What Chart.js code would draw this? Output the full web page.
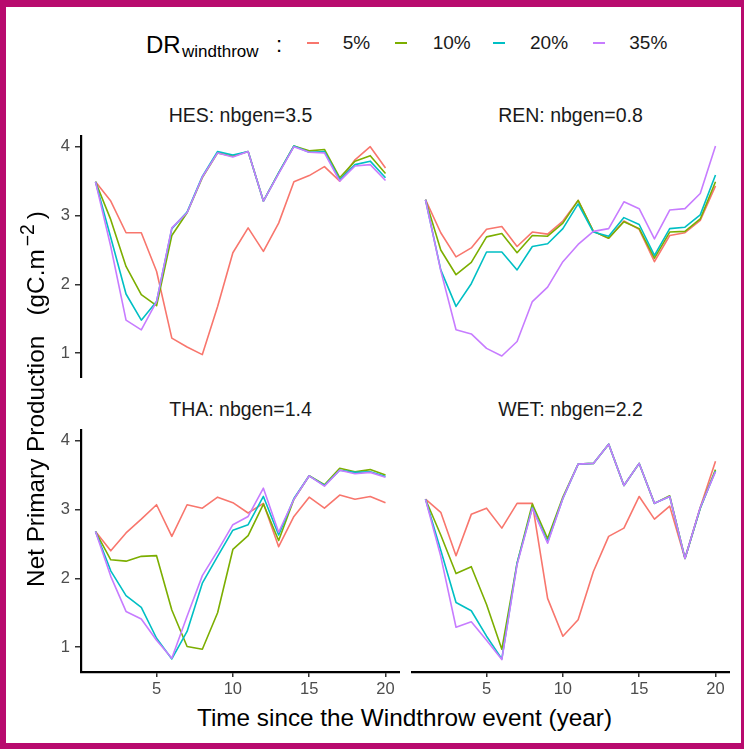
<!DOCTYPE html>
<html>
<head>
<meta charset="utf-8">
<script src="https://cdn.jsdelivr.net/npm/chart.js@4.4.1/dist/chart.umd.min.js"></script>
<style>
    body { margin: 0; background: #fff; }
    #page {
        position: relative; width: 744px; height: 749px; overflow: hidden;
        background: #fff; font-family: "Liberation Sans", Arial, sans-serif;
    }
    #frame {
        position: absolute; left: 0; top: 0; width: 744px; height: 749px;
        box-sizing: border-box; border-style: solid; border-color: #b80b6e;
        border-width: 7px 3px 6px 6px; pointer-events: none; z-index: 5;
    }
    canvas { position: absolute; }
    .txt { position: absolute; white-space: pre; line-height: 1; color: #1a1a1a; }
    .strip { width: 300px; text-align: center; font-size: 19.5px; }
    .key { position: absolute; height: 2px; width: 12px; }
    #ytitle {
        position: absolute; left: 36px; top: 399px; font-size: 24.3px; line-height: 1;
        white-space: pre; color: #000;
        transform: translate(-50%, -50%) rotate(-90deg);
    }
    #ytitle sup { font-size: 0.8em; vertical-align: 0.5em; line-height: 0; margin: 0 5px 0 3px; }
</style>
</head>
<body>
<div id="page">
    <!-- leyenda -->
    <div class="txt" style="left:146px; top:32.7px; font-size:24px; color:#000">DR</div>
    <div class="txt" style="left:182px; top:42.6px; font-size:17px; color:#000">windthrow</div>
    <div class="txt" style="left:276px; top:34.4px; font-size:22px; color:#000">:</div>
    <div class="key" style="left:307px; top:42px; background:#F8766D"></div>
    <div class="txt" style="left:342.7px; top:33.2px; font-size:19px">5%</div>
    <div class="key" style="left:395px; top:42px; background:#7CAE00"></div>
    <div class="txt" style="left:432.7px; top:33.2px; font-size:19px">10%</div>
    <div class="key" style="left:493px; top:42px; background:#00BFC4"></div>
    <div class="txt" style="left:530px; top:33.2px; font-size:19px">20%</div>
    <div class="key" style="left:592.5px; top:42px; background:#C77CFF"></div>
    <div class="txt" style="left:629.3px; top:33.2px; font-size:19px">35%</div>

    <!-- titulos de cada panel -->
    <div class="txt strip" style="left:90.5px; top:106.2px">HES: nbgen=3.5</div>
    <div class="txt strip" style="left:420.5px; top:106.2px">REN: nbgen=0.8</div>
    <div class="txt strip" style="left:90.5px; top:399.6px">THA: nbgen=1.4</div>
    <div class="txt strip" style="left:420.5px; top:399.6px">WET: nbgen=2.2</div>

    <!-- paneles -->
    <canvas id="cHES" width="359" height="243" style="left:41px; top:135px"></canvas>
    <canvas id="cREN" width="319" height="243" style="left:411px; top:135px"></canvas>
    <canvas id="cTHA" width="359" height="275" style="left:41px; top:429px"></canvas>
    <canvas id="cWET" width="319" height="275" style="left:411px; top:429px"></canvas>

    <!-- titulos de ejes -->
    <div id="ytitle">Net Primary Production   (gC.m<sup>−2</sup>)</div>
    <div class="txt" style="left:404.5px; top:706px; font-size:24.3px; color:#000; transform:translateX(-50%)">Time since the Windthrow event (year)</div>

    <div id="frame"></div>
</div>

<script>
// ==========================================================================
// NPP despues del evento de derribo por viento, 4 sitios x 4 tasas DR
// ==========================================================================

const years = [1, 2, 3, 4, 5, 6, 7, 8, 9, 10, 11, 12, 13, 14, 15, 16, 17, 18, 19, 20];
const rates = ['5%', '10%', '20%', '35%'];
const xTicks = [5, 10, 15, 20];
const yTicks = [1, 2, 3, 4];

// HES
const hes5  = [3.49, 3.21, 2.75, 2.75, 2.19, 1.22, 1.09, 0.98, 1.68, 2.46, 2.82, 2.48, 2.89, 3.49, 3.58, 3.71, 3.50, 3.81, 4.00, 3.69];
const hes10 = [3.49, 2.94, 2.26, 1.85, 1.69, 2.71, 3.04, 3.55, 3.91, 3.86, 3.93, 3.21, 3.62, 4.01, 3.94, 3.96, 3.55, 3.79, 3.87, 3.61];
const hes20 = [3.49, 2.68, 1.86, 1.48, 1.75, 2.81, 3.05, 3.57, 3.93, 3.88, 3.93, 3.21, 3.62, 4.01, 3.92, 3.93, 3.52, 3.74, 3.79, 3.55];
const hes35 = [3.49, 2.55, 1.48, 1.34, 1.75, 2.82, 3.04, 3.56, 3.91, 3.85, 3.93, 3.21, 3.61, 4.00, 3.92, 3.91, 3.50, 3.72, 3.74, 3.51];

// REN
const ren5  = [3.23, 2.75, 2.40, 2.53, 2.80, 2.84, 2.55, 2.76, 2.73, 2.92, 3.22, 2.77, 2.67, 2.92, 2.80, 2.33, 2.71, 2.75, 2.93, 3.43];
const ren10 = [3.23, 2.50, 2.14, 2.32, 2.69, 2.74, 2.46, 2.71, 2.70, 2.89, 3.22, 2.77, 2.67, 2.91, 2.81, 2.38, 2.76, 2.77, 2.95, 3.49];
const ren20 = [3.23, 2.21, 1.68, 2.01, 2.47, 2.47, 2.21, 2.55, 2.59, 2.81, 3.17, 2.76, 2.70, 2.97, 2.87, 2.42, 2.81, 2.83, 3.01, 3.59];
const ren35 = [3.23, 2.20, 1.34, 1.28, 1.07, 0.96, 1.17, 1.75, 1.96, 2.33, 2.58, 2.77, 2.81, 3.20, 3.10, 2.66, 3.08, 3.10, 3.32, 4.01];

// THA
const tha5  = [2.68, 2.40, 2.66, 2.86, 3.07, 2.61, 3.07, 3.02, 3.18, 3.10, 2.95, 3.09, 2.46, 2.90, 3.18, 3.02, 3.21, 3.15, 3.19, 3.10];
const tha10 = [2.68, 2.27, 2.25, 2.32, 2.33, 1.54, 1.01, 0.97, 1.50, 2.42, 2.62, 3.08, 2.55, 3.15, 3.49, 3.36, 3.60, 3.55, 3.58, 3.50];
const tha20 = [2.68, 2.11, 1.75, 1.58, 1.13, 0.83, 1.23, 1.93, 2.32, 2.70, 2.78, 3.19, 2.63, 3.16, 3.49, 3.35, 3.57, 3.54, 3.55, 3.48];
const tha35 = [2.68, 2.03, 1.52, 1.41, 1.10, 0.84, 1.45, 2.04, 2.40, 2.78, 2.90, 3.31, 2.67, 3.15, 3.49, 3.34, 3.57, 3.52, 3.54, 3.47];

// WET
const wet5  = [3.15, 2.96, 2.33, 2.93, 3.02, 2.73, 3.09, 3.09, 1.71, 1.16, 1.40, 2.10, 2.61, 2.73, 3.19, 2.86, 3.05, 2.29, 3.03, 3.70];
const wet10 = [3.15, 2.63, 2.07, 2.17, 1.62, 0.97, 2.22, 3.08, 2.58, 3.18, 3.66, 3.67, 3.95, 3.35, 3.67, 3.09, 3.20, 2.29, 3.02, 3.58];
const wet20 = [3.15, 2.41, 1.65, 1.53, 1.16, 0.83, 2.22, 3.03, 2.53, 3.16, 3.66, 3.67, 3.95, 3.35, 3.67, 3.09, 3.19, 2.29, 3.02, 3.56];
const wet35 = [3.15, 2.32, 1.29, 1.37, 1.10, 0.82, 2.20, 3.02, 2.51, 3.16, 3.66, 3.67, 3.95, 3.35, 3.67, 3.09, 3.19, 2.29, 3.03, 3.55];

// Paleta por defecto de ggplot para 4 grupos
const colores = ['#F8766D', '#7CAE00', '#00BFC4', '#C77CFF'];

const fuente = '"Liberation Sans", Arial, sans-serif';

/**
 * Dibuja un panel. showX / showY indican si lleva eje (solo los paneles exteriores).
 * El tamano de los ejes se fija a mano para que los cuatro paneles queden alineados.
 */
function dibujarPanel(idCanvas, series, showX, showY) {
    const datasets = series.map((valores, i) => ({
        label: rates[i],
        data: valores.map((v, j) => ({ x: years[j], y: v })),
        borderColor: colores[i],
        borderWidth: 1.6,
        borderJoinStyle: 'round',
        pointRadius: 0,
        tension: 0,
        fill: false,
        order: series.length - i   // 35% encima de todo
    }));

    const ticksComunes = {
        color: '#4d4d4d',
        font: { family: fuente, size: 16.5 },
        autoSkip: false,
        maxRotation: 0
    };

    new Chart(document.getElementById(idCanvas), {
        type: 'line',
        data: { datasets },
        options: {
            responsive: false,
            animation: false,
            devicePixelRatio: 1,
            layout: { padding: 0 },
            plugins: { legend: { display: false }, tooltip: { enabled: false } },
            scales: {
                x: {
                    type: 'linear',
                    min: 0.05,
                    max: 20.95,
                    display: showX,
                    afterBuildTicks: s => { s.ticks = xTicks.map(v => ({ value: v })); },
                    afterFit: s => {
                        s.height = showX ? 32 : 0;
                        s.paddingLeft = 0;
                        s.paddingRight = 0;
                    },
                    grid: { drawOnChartArea: false, drawTicks: true, tickLength: 5, color: '#333', lineWidth: 1.5 },
                    border: { display: true, color: '#000', width: 2.2 },
                    ticks: { ...ticksComunes, padding: 3 }
                },
                y: {
                    type: 'linear',
                    min: 0.64,
                    max: 4.17,
                    display: showY,
                    afterBuildTicks: s => { s.ticks = yTicks.map(v => ({ value: v })); },
                    afterFit: s => {
                        s.width = showY ? 40 : 0;
                        s.paddingTop = 0;
                        s.paddingBottom = 0;
                    },
                    grid: { drawOnChartArea: false, drawTicks: true, tickLength: 6, color: '#333', lineWidth: 1.5 },
                    border: { display: true, color: '#000', width: 2.2 },
                    ticks: { ...ticksComunes, padding: 5 }
                }
            }
        }
    });
}

dibujarPanel('cHES', [hes5, hes10, hes20, hes35], false, true);
dibujarPanel('cREN', [ren5, ren10, ren20, ren35], false, false);
dibujarPanel('cTHA', [tha5, tha10, tha20, tha35], true, true);
dibujarPanel('cWET', [wet5, wet10, wet20, wet35], true, false);
</script>
</body>
</html>
